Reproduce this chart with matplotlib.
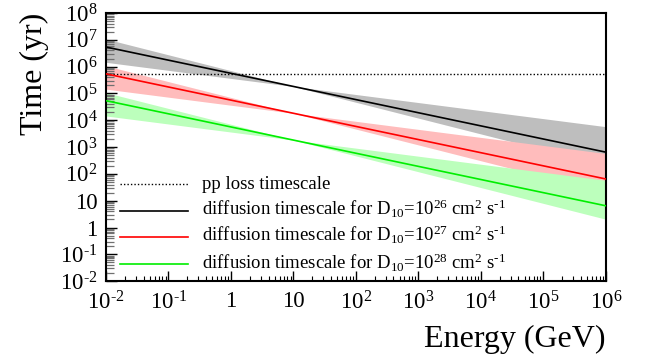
import matplotlib
matplotlib.use('Agg')
import matplotlib.pyplot as plt
import numpy as np

plt.rcParams['font.family'] = ['Liberation Serif', 'DejaVu Serif']
plt.rcParams['mathtext.fontset'] = 'custom'
plt.rcParams['mathtext.rm'] = 'Liberation Serif'
plt.rcParams['mathtext.it'] = 'Liberation Serif:italic'

# energies (GeV), one point per decade
energy = [1e-2, 1e-1, 1, 10, 1e2, 1e3, 1e4, 1e5, 1e6]

# log10 of time (yr)
logt_d26 = [6.73, 6.24, 5.75, 5.26, 4.77, 4.28, 3.79, 3.30, 2.81]
logt_d26_hi = [7.03, 6.44, 5.85, 5.26, 4.96, 4.66, 4.36, 4.06, 3.76]
logt_d26_lo = [6.16, 5.86, 5.56, 5.26, 4.67, 4.08, 3.49, 2.90, 2.31]

logt_d27 = [5.73, 5.24, 4.75, 4.26, 3.77, 3.28, 2.79, 2.30, 1.81]
logt_d27_hi = [6.03, 5.44, 4.85, 4.26, 3.96, 3.66, 3.36, 3.06, 2.76]
logt_d27_lo = [5.16, 4.86, 4.56, 4.26, 3.67, 3.08, 2.49, 1.90, 1.31]

logt_d28 = [4.73, 4.24, 3.75, 3.26, 2.77, 2.28, 1.79, 1.30, 0.81]
logt_d28_hi = [5.03, 4.44, 3.85, 3.26, 2.96, 2.66, 2.36, 2.06, 1.76]
logt_d28_lo = [4.16, 3.86, 3.56, 3.26, 2.67, 2.08, 1.49, 0.90, 0.31]

pp_loss_time = 5.3e5

tick_vals = [1e-2, 1e-1, 1, 10, 1e2, 1e3, 1e4, 1e5, 1e6, 1e7, 1e8]
tick_labels = [r'$\mathregular{10^{‐2}}$', r'$\mathregular{10^{‐1}}$', '1', '10',
               r'$\mathregular{10^{2}}$', r'$\mathregular{10^{3}}$', r'$\mathregular{10^{4}}$',
               r'$\mathregular{10^{5}}$', r'$\mathregular{10^{6}}$', r'$\mathregular{10^{7}}$',
               r'$\mathregular{10^{8}}$']

labels = ['pp loss timescale',
          r'diffusion timescale for $\mathregular{D_{10}}$=$\mathregular{10^{26}}$ cm$\mathregular{^{2}}$ s$\mathregular{^{‐1}}$',
          r'diffusion timescale for $\mathregular{D_{10}}$=$\mathregular{10^{27}}$ cm$\mathregular{^{2}}$ s$\mathregular{^{‐1}}$',
          r'diffusion timescale for $\mathregular{D_{10}}$=$\mathregular{10^{28}}$ cm$\mathregular{^{2}}$ s$\mathregular{^{‐1}}$']

fig = plt.figure(figsize=(6.5, 3.6), dpi=100)
ax = fig.add_axes([0.163, 0.219, 0.769, 0.745])

E = np.array(energy)
series = [(logt_d26, logt_d26_lo, logt_d26_hi, 'black', '#bebebe'),
          (logt_d27, logt_d27_lo, logt_d27_hi, 'red', '#ffbcbc'),
          (logt_d28, logt_d28_lo, logt_d28_hi, '#00ee00', '#bcffbc')]

for mid, lo, hi, col, band in series:
    ax.fill_between(E, 10 ** np.array(lo), 10 ** np.array(hi), color=band, lw=0, zorder=1)

ax.plot([energy[0], energy[-1]], [pp_loss_time, pp_loss_time], color='black', ls=(0, (1, 1.5)), lw=1.0, zorder=3)
for mid, lo, hi, col, band in series:
    ax.plot(E, 10 ** np.array(mid), color=col, lw=1.2, zorder=3)

# hand-placed legend (ROOT TLegend look)
leg_styles = [('black', (0, (1, 1.5)), 1.0), ('black', '-', 1.2), ('red', '-', 1.2), ('#00ee00', '-', 1.2)]
leg_rows = [0.362, 0.261, 0.164, 0.063]
for (col, ls, lw), yr, lab in zip(leg_styles, leg_rows, labels):
    ax.plot([0.028, 0.164], [yr, yr], transform=ax.transAxes, color=col, ls=ls, lw=lw, clip_on=False)
    ax.text(0.192, yr - 0.017, lab, transform=ax.transAxes, fontsize=13.5, va='baseline', ha='left')

ax.set_xscale('log')
ax.set_yscale('log')
ax.set_xlim(1e-2, 1e6)
ax.set_ylim(1e-2, 1e8)

ax.set_xticks(tick_vals[:9])
ax.set_xticklabels(tick_labels[:9], fontsize=16.5)
ax.set_yticks(tick_vals)
ax.set_yticklabels(tick_labels, fontsize=16.5)
ax.xaxis.set_minor_locator(matplotlib.ticker.LogLocator(base=10, subs=np.arange(2, 10), numticks=20))
ax.yaxis.set_minor_locator(matplotlib.ticker.LogLocator(base=10, subs=np.arange(2, 10), numticks=20))
ax.xaxis.set_minor_formatter(matplotlib.ticker.NullFormatter())
ax.yaxis.set_minor_formatter(matplotlib.ticker.NullFormatter())

ax.tick_params(axis='x', which='major', direction='in', length=7, width=1, pad=7)
ax.tick_params(axis='x', which='minor', direction='in', length=3.5, width=0.8)
ax.tick_params(axis='y', which='major', direction='in', length=8, width=1, pad=6)
ax.tick_params(axis='y', which='minor', direction='in', length=6, width=0.9, color='#707070')
for s in ax.spines.values():
    s.set_linewidth(1.5)

ax.set_xlabel('Energy (GeV)', fontsize=23, loc='right', labelpad=8)
ax.set_ylabel('Time (yr)', fontsize=23, loc='top', labelpad=8)

fig.savefig('out.png', dpi=100)
